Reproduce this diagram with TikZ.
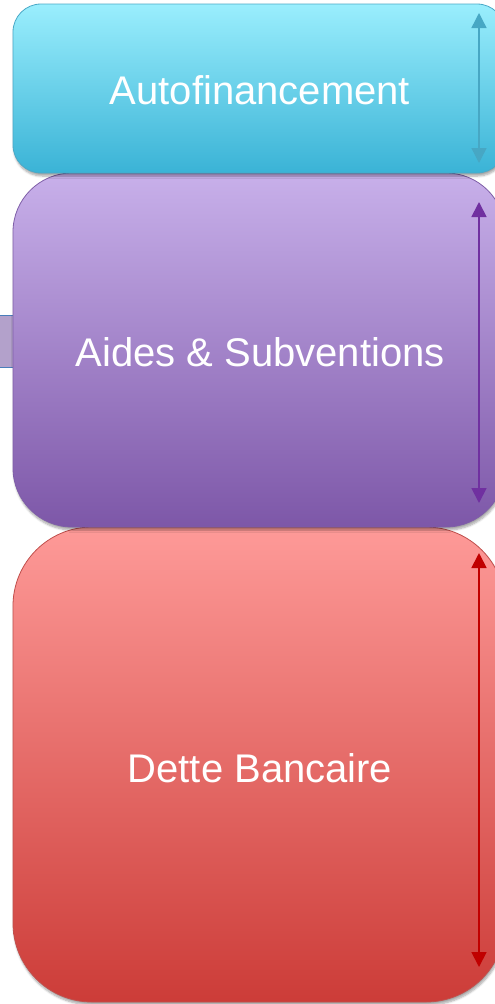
\documentclass[tikz,border=0pt]{standalone}
\usepackage{fontspec}
\setmainfont{Liberation Sans}
\usetikzlibrary{arrows.meta,shadows.blur}
\definecolor{cyanTop}{HTML}{9AEEFD}
\definecolor{cyanBot}{HTML}{3AB3D6}
\definecolor{cyanLine}{HTML}{4BA9C7}
\definecolor{cyanArrow}{HTML}{47A7C4}
\definecolor{purTop}{HTML}{C8B0EA}
\definecolor{purBot}{HTML}{7D57A8}
\definecolor{purLine}{HTML}{7F5FA8}
\definecolor{purArrow}{HTML}{7030A0}
\definecolor{redTop}{HTML}{FE9A98}
\definecolor{redBot}{HTML}{CC3C38}
\definecolor{redLine}{HTML}{C0504D}
\definecolor{redArrow}{HTML}{C00000}
\definecolor{tabFill}{HTML}{B3A1CB}
\definecolor{tabLine}{HTML}{4A7EBB}
\tikzset{
  x=1pt, y=-1pt,
  blockbox/.style={rectangle, minimum width=492pt, inner sep=0pt,
    text=white, font=\fontsize{40}{48}\selectfont, line width=0.8pt,
    blur shadow={shadow xshift=1pt, shadow yshift=-3pt, shadow blur steps=6, shadow opacity=35}},
  sizearrow/.style={line width=1.8pt, {Triangle[width=15pt,length=15pt]}-{Triangle[width=15pt,length=15pt]}}
}
\begin{document}
\begin{tikzpicture}
\useasboundingbox (0,0) rectangle (495,1004);
\clip (0,0) rectangle (495,1004);
% bottom block
\node[blockbox, minimum height=475pt, rounded corners=79pt, draw=redLine,
  top color=redTop, bottom color=redBot] (dette) at (259,764.5) {};
\node[text=white, font=\fontsize{40}{48}\selectfont] (detteT) at (260,768) {Dette Bancaire};
% side tab
\node[rectangle, draw=tabLine, fill=tabFill, line width=1pt, minimum width=16pt, minimum height=52pt, inner sep=0pt] (tab) at (6,341) {};
% middle block
\node[blockbox, minimum height=354pt, rounded corners=59pt, draw=purLine,
  top color=purTop, bottom color=purBot] (aides) at (259,350) {};
\node[text=white, font=\fontsize{40}{48}\selectfont] (aidesT) at (260,352) {Aides \& Subventions};
% top block
\node[blockbox, minimum height=169pt, rounded corners=28pt, draw=cyanLine,
  top color=cyanTop, bottom color=cyanBot] (auto) at (259,88.5) {};
\node[text=white, font=\fontsize{40}{48}\selectfont] (autoT) at (260,90) {Autofinancement};
% arrows
\coordinate (a1) at (479,13);
\coordinate (a2) at (479,163);
\coordinate (b1) at (479,202);
\coordinate (b2) at (479,503);
\coordinate (c1) at (479,553);
\coordinate (c2) at (479,967);
\draw[sizearrow, draw=cyanArrow, fill=cyanArrow, line width=1.4pt] (a1) -- (a2);
\draw[sizearrow, draw=purArrow, fill=purArrow] (b1) -- (b2);
\draw[sizearrow, draw=redArrow, fill=redArrow] (c1) -- (c2);
\end{tikzpicture}
\end{document}
